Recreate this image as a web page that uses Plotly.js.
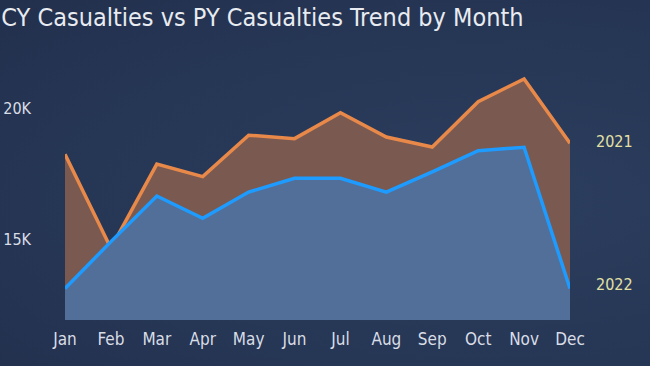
<!DOCTYPE html>
<html>
<head>
<meta charset="utf-8">
<script src="https://cdn.plot.ly/plotly-3.0.1.min.js"></script>
<style>
html,body{margin:0;padding:0;background:#263655;}
#chart{width:650px;height:366px;background:radial-gradient(ellipse at 75% 55%, #2c3e5e 0%, #263655 60%, #22304d 100%);}
</style>
</head>
<body>
<div id="chart"></div>
<script>
const months = ["Jan","Feb","Mar","Apr","May","Jun","Jul","Aug","Sep","Oct","Nov","Dec"];
const py2021 = [18240,14660,17870,17390,18970,18840,19830,18900,18520,20250,21120,18660];
const cy2022 = [13120,14910,16650,15800,16800,17330,17330,16800,17570,18380,18510,13120];
const seriesNames = ["2021","2022"];
const yTickVals = [15000,20000];
const yTickText = ["15K","20K"];

const FONT = 'DejaVu Sans Condensed, Liberation Sans Narrow, sans-serif';

const traces = [
  {x: months, y: py2021, name: seriesNames[0], type: 'scatter', mode: 'lines',
   line: {color: '#e8894a', width: 3.5}, fill: 'tozeroy', fillcolor: 'rgb(122,89,80)'},
  {x: months, y: cy2022, name: seriesNames[1], type: 'scatter', mode: 'lines',
   line: {color: '#1e9bff', width: 3.5}, fill: 'tozeroy', fillcolor: 'rgb(82,111,153)'}
];

const layout = {
  width: 650, height: 366,
  paper_bgcolor: 'rgba(0,0,0,0)', plot_bgcolor: 'rgba(0,0,0,0)',
  margin: {l: 65, r: 80, t: 60, b: 46},
  showlegend: false,
  title: {text: 'CY Casualties vs PY Casualties Trend by Month', x: 0.002, xanchor: 'left', y: 0.953, yanchor: 'middle',
          font: {family: FONT, size: 25, color: '#e8ebf0'}},
  xaxis: {type: 'category', range: [0, 11], showgrid: false, zeroline: false, showline: false,
          tickfont: {family: FONT, size: 17, color: '#d9dde6'},
          ticks: '', ticklabelstandoff: 7},
  yaxis: {range: [11920, 21840], showgrid: false, zeroline: false, showline: false,
          tickvals: yTickVals, ticktext: yTickText, ticks: '', ticklabelstandoff: 33,
          tickfont: {family: FONT, size: 16, color: '#d9dde6'}},
  annotations: [
    {x: 'Dec', y: py2021[11], text: seriesNames[0], showarrow: false, xanchor: 'left', xshift: 24, yshift: 2,
     font: {family: FONT, size: 16, color: '#e3e0a6'}},
    {x: 'Dec', y: cy2022[11], text: seriesNames[1], showarrow: false, xanchor: 'left', xshift: 24, yshift: 4,
     font: {family: FONT, size: 16, color: '#e3e0a6'}}
  ]
};

Plotly.newPlot('chart', traces, layout, {displayModeBar: false, staticPlot: true});
</script>
</body>
</html>
